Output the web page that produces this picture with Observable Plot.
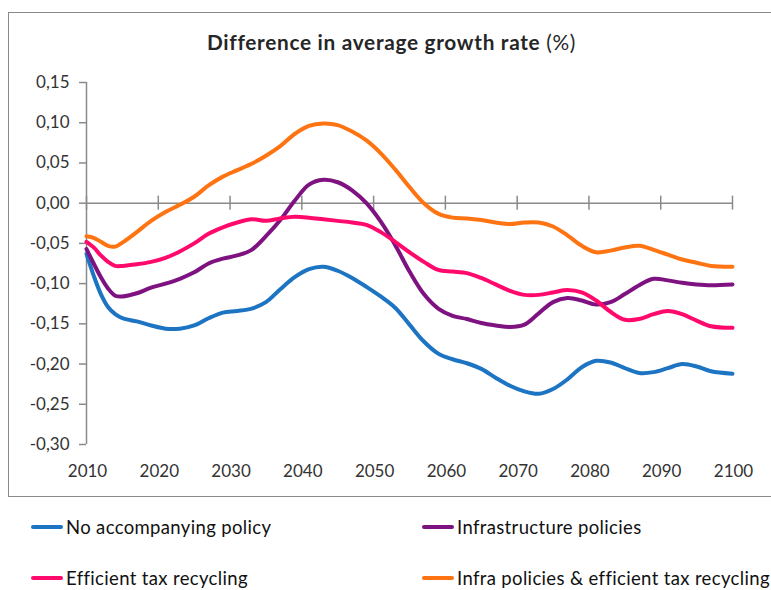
<!DOCTYPE html>
<html>
<head>
<meta charset="utf-8">
<script src="https://cdn.jsdelivr.net/npm/d3@7"></script>
<script src="https://cdn.jsdelivr.net/npm/@observablehq/plot@0.6"></script>
<style>
  html, body { margin: 0; padding: 0; background: #fff; width: 771px; height: 590px; overflow: hidden; }
  body { position: relative; font-family: Lato, "Open Sans", sans-serif; color: #1a1a1a; }
  #frame { position: absolute; left: 8px; top: 12px; width: 820px; height: 485px; border: 1.5px solid #8a8a8a; border-right: none; box-sizing: border-box; }
  #title { position: absolute; left: 0; width: 783px; top: 29px; text-align: center; font-size: 20.8px; line-height: 26px; letter-spacing: 0.7px; font-weight: bold; color: #262626; }
  #title span { font-weight: normal; }
  #chart { position: absolute; left: 0; top: 0; }
  .leg { position: absolute; font-size: 18.5px; letter-spacing: 0.35px; color: #111; display: flex; align-items: center; white-space: nowrap; }
  .leg i { display: inline-block; width: 32px; height: 4px; border-radius: 2px; margin-right: 3px; }
</style>
</head>
<body>
<div id="frame"></div>
<div id="chart"></div>
<div id="title">Difference in average growth rate <span>(%)</span></div>
<div id="legend"></div>
<script>
const years = [2010,2011,2012,2013,2014,2015,2017,2019,2021,2023,2025,2027,2029,2031,2033,2035,2037,2039,2041,2043,2045,2047,2049,2051,2053,2055,2057,2059,2061,2063,2065,2067,2069,2071,2073,2075,2077,2079,2081,2083,2085,2087,2089,2091,2093,2095,2097,2100];

const noPolicy = [-0.063,-0.090,-0.113,-0.129,-0.138,-0.143,-0.147,-0.152,-0.156,-0.156,-0.152,-0.143,-0.136,-0.134,-0.131,-0.123,-0.107,-0.092,-0.082,-0.079,-0.084,-0.093,-0.104,-0.116,-0.130,-0.151,-0.172,-0.187,-0.194,-0.199,-0.206,-0.217,-0.227,-0.234,-0.237,-0.231,-0.219,-0.204,-0.196,-0.198,-0.205,-0.211,-0.210,-0.205,-0.200,-0.203,-0.209,-0.212];

const infrastructure = [-0.057,-0.075,-0.092,-0.106,-0.115,-0.116,-0.112,-0.105,-0.100,-0.094,-0.086,-0.075,-0.069,-0.065,-0.058,-0.041,-0.021,0.003,0.023,0.029,0.026,0.016,0.000,-0.023,-0.052,-0.085,-0.113,-0.131,-0.140,-0.144,-0.149,-0.152,-0.154,-0.151,-0.137,-0.123,-0.118,-0.121,-0.126,-0.123,-0.113,-0.102,-0.094,-0.096,-0.099,-0.101,-0.102,-0.101];

const efficientTax = [-0.048,-0.055,-0.065,-0.073,-0.078,-0.078,-0.076,-0.073,-0.068,-0.060,-0.050,-0.038,-0.030,-0.024,-0.020,-0.022,-0.019,-0.017,-0.018,-0.020,-0.022,-0.024,-0.027,-0.036,-0.048,-0.061,-0.073,-0.083,-0.085,-0.087,-0.093,-0.101,-0.109,-0.114,-0.114,-0.111,-0.108,-0.111,-0.121,-0.135,-0.145,-0.144,-0.138,-0.134,-0.138,-0.146,-0.153,-0.155];

const infraAndTax = [-0.041,-0.043,-0.048,-0.053,-0.054,-0.049,-0.036,-0.022,-0.011,-0.002,0.008,0.022,0.033,0.041,0.049,0.059,0.071,0.086,0.096,0.099,0.097,0.089,0.078,0.062,0.042,0.020,0.000,-0.013,-0.018,-0.019,-0.021,-0.024,-0.026,-0.024,-0.024,-0.029,-0.040,-0.053,-0.061,-0.059,-0.055,-0.053,-0.058,-0.064,-0.070,-0.074,-0.078,-0.079];

const seriesNames = ["No accompanying policy", "Infrastructure policies", "Efficient tax recycling", "Infra policies & efficient tax recycling"];
const seriesValues = [noPolicy, infrastructure, efficientTax, infraAndTax];
const seriesColors = ["#1c74c3", "#7e1280", "#ff0a6c", "#ff7412"];

const xTicks = [2010,2020,2030,2040,2050,2060,2070,2080,2090,2100];
const yTicks = [0.15,0.10,0.05,0.00,-0.05,-0.10,-0.15,-0.20,-0.25,-0.30];

const rows = [];
seriesValues.forEach((vals, i) => {
  vals.forEach((v, j) => rows.push({series: seriesNames[i], year: years[j], value: v}));
});

const fmt = d => d.toFixed(2).replace(".", ",");

const plot = Plot.plot({
  width: 771,
  height: 500,
  marginLeft: 86,
  marginRight: 39,
  marginTop: 82,
  marginBottom: 56,
  style: {fontFamily: "Lato, 'Open Sans', sans-serif", fontSize: "17px", color: "#333", background: "transparent", overflow: "visible"},
  x: {domain: [2010, 2100], axis: null},
  y: {domain: [-0.30, 0.15], axis: null},
  color: {domain: seriesNames, range: seriesColors},
  marks: [
    Plot.ruleY([0], {stroke: "#8a8a8a", strokeWidth: 1.5}),
    Plot.ruleX(xTicks, {x: d => d, y1: 0, y2: 0, insetTop: -7, insetBottom: -7, stroke: "#8a8a8a", strokeWidth: 1.5}),
    Plot.ruleX([2010], {y1: -0.30, y2: 0.15, stroke: "#8a8a8a", strokeWidth: 1.5}),
    Plot.axisY({ticks: yTicks, tickFormat: fmt, label: null, tickSize: 7, tickPadding: 10, stroke: "#8a8a8a", strokeWidth: 1.5, strokeOpacity: 1, fill: "#333", fontSize: "17px", letterSpacing: "2.2px"}),
    Plot.axisX({ticks: xTicks, tickFormat: d => String(d), label: null, tickSize: 0, tickPadding: 20, fill: "#333", fontSize: "17px", letterSpacing: "2.2px", dx: 1}),
    Plot.line(rows, {x: "year", y: "value", z: "series", stroke: "series", strokeWidth: 4, curve: "catmull-rom"})
  ]
});
document.getElementById("chart").appendChild(plot);

const legendPos = [[31, 527], [422, 527], [31, 578], [422, 578]];
const legend = document.getElementById("legend");
seriesNames.forEach((name, i) => {
  const d = document.createElement("div");
  d.className = "leg";
  d.style.left = legendPos[i][0] + "px";
  d.style.top = (legendPos[i][1] - 12) + "px";
  d.style.height = "24px";
  d.innerHTML = `<i style="background:${seriesColors[i]}"></i>${name}`;
  legend.appendChild(d);
});
</script>
</body>
</html>
